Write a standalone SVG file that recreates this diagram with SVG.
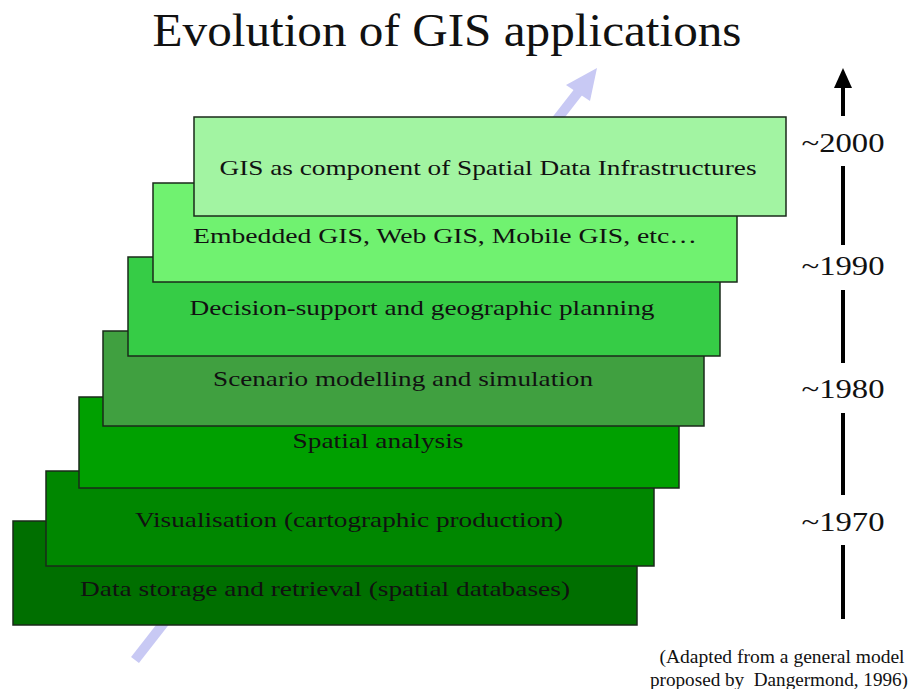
<svg xmlns="http://www.w3.org/2000/svg" width="912" height="689" viewBox="0 0 912 689">
<style>
.box{stroke:#1a2a1a;stroke-width:1.5}
.t{font-family:"Liberation Serif","Times New Roman",serif;fill:#111}
.bt{font-size:22px;text-anchor:middle}
.yr{font-size:28px;text-anchor:middle}
.tl{stroke:#000;stroke-width:4}
</style>
<rect width="912" height="689" fill="#fff"/>
<text class="t" x="447" y="46" font-size="46" text-anchor="middle" textLength="589" lengthAdjust="spacingAndGlyphs">Evolution of GIS applications</text>

<g id="connectors">
<line x1="135" y1="660" x2="583" y2="86" stroke="#c8c9f4" stroke-width="10"/>
<polygon points="597,68 566,85 590,101" fill="#c8c9f4"/>
<line class="tl" x1="843" y1="116" x2="843" y2="86"/>
<polygon points="843,68 834,88 852,88" fill="#000"/>
<line class="tl" x1="843" y1="166" x2="843" y2="245"/>
<line class="tl" x1="843" y1="290" x2="843" y2="363"/>
<line class="tl" x1="843" y1="413" x2="843" y2="495"/>
<line class="tl" x1="843" y1="545" x2="843" y2="619"/>
</g>

<g id="box1"><rect class="box" x="13" y="521" width="624" height="104" fill="#006f00"/>
<text class="t bt" x="325" y="596" textLength="490" lengthAdjust="spacingAndGlyphs">Data storage and retrieval (spatial databases)</text></g>
<g id="box2"><rect class="box" x="46" y="471" width="608" height="95" fill="#008700"/>
<text class="t bt" x="349" y="527" textLength="428" lengthAdjust="spacingAndGlyphs">Visualisation (cartographic production)</text></g>
<g id="box3"><rect class="box" x="79" y="397" width="600" height="91" fill="#00a000"/>
<text class="t bt" x="378" y="448" textLength="171" lengthAdjust="spacingAndGlyphs">Spatial analysis</text></g>
<g id="box4"><rect class="box" x="103" y="331" width="601" height="95" fill="#40a040"/>
<text class="t bt" x="403" y="386" textLength="380" lengthAdjust="spacingAndGlyphs">Scenario modelling and simulation</text></g>
<g id="box5"><rect class="box" x="128" y="257" width="592" height="99" fill="#36cc46"/>
<text class="t bt" x="422" y="315" textLength="465" lengthAdjust="spacingAndGlyphs">Decision-support and geographic planning</text></g>
<g id="box6"><rect class="box" x="153" y="183" width="584" height="99" fill="#70f270"/>
<text class="t bt" x="445" y="243" textLength="504" lengthAdjust="spacingAndGlyphs">Embedded GIS, Web GIS, Mobile GIS, etc…</text></g>
<g id="box7"><rect class="box" x="194" y="117" width="592" height="99" fill="#a2f4a2"/>
<text class="t bt" x="488" y="175" textLength="537" lengthAdjust="spacingAndGlyphs">GIS as component of Spatial Data Infrastructures</text></g>

<g id="years">
<text class="t yr" x="843" y="152" textLength="83" lengthAdjust="spacingAndGlyphs">~2000</text>
<text class="t yr" x="843" y="275" textLength="83" lengthAdjust="spacingAndGlyphs">~1990</text>
<text class="t yr" x="843" y="398" textLength="83" lengthAdjust="spacingAndGlyphs">~1980</text>
<text class="t yr" x="843" y="531" textLength="83" lengthAdjust="spacingAndGlyphs">~1970</text>
</g>
<g id="footer">
<text class="t" x="782" y="663" font-size="18" text-anchor="middle" textLength="245" lengthAdjust="spacingAndGlyphs">(Adapted from a general model</text>
<text class="t" x="779" y="686" font-size="18" text-anchor="middle" textLength="258" lengthAdjust="spacingAndGlyphs" xml:space="preserve">proposed by  Dangermond, 1996)</text>
</g>
</svg>
